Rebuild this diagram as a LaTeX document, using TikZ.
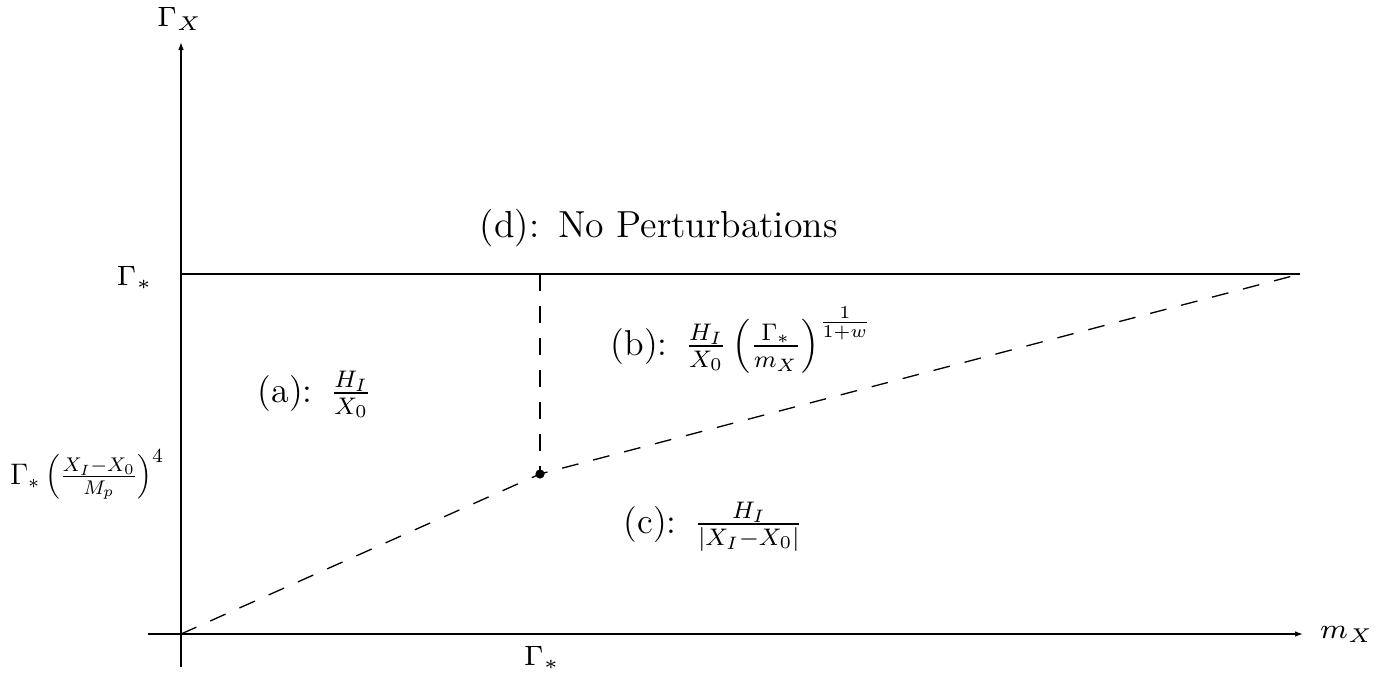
\documentclass[tikz,border=0pt]{standalone}
\usetikzlibrary{arrows.meta}
\newcommand\shrinkit[1]{\scalebox{0.75}{#1}}
\begin{document}
\begin{tikzpicture}[x=0.25pt,y=-0.25pt,
 axis/.style={line width=0.33pt,-{Latex[length=2pt,width=1.4pt]}},
 solidline/.style={line width=0.33pt},
 dashline/.style={line width=0.33pt,dash pattern=on 4.2pt off 3.8pt},
 biglabel/.style={inner sep=0pt,font=\fontsize{12}{14}\selectfont},
 smalllabel/.style={inner sep=0pt,font=\fontsize{7}{8.5}\selectfont},
 sidelabel/.style={inner sep=0pt,font=\fontsize{12}{14}\selectfont}]
\useasboundingbox (0,0) rectangle (1392,677);
\coordinate (O) at (181,634);
\coordinate (xs) at (148,634);
\coordinate (xe) at (1303,634);
\coordinate (ys) at (181,667);
\coordinate (ye) at (181,42);
\coordinate (GL) at (181,274);
\coordinate (GR) at (1300,274);
\coordinate (GT) at (540,274);
\node[circle,fill,inner sep=0pt,minimum size=2.3pt] (dot) at (540,474) {};
\draw[axis] (xs) -- (xe);
\draw[axis] (ys) -- (ye);
\draw[solidline] (GL) -- (GR);
\draw[dashline] (O) -- (dot.center) -- (GR);
\draw[dashline] (GT) -- (dot.center);
\node[smalllabel,anchor=base] (gx) at (180,26) {$\Gamma_X$};
\node[smalllabel,anchor=base east] (gs) at (154,285) {$\Gamma_*$};
\node[sidelabel,anchor=base east] (gp) at (165,484) {\resizebox{38.5pt}{!}{$\Gamma_*\left(\frac{X_I-X_0}{M_p}\right)^4$}};
\node[smalllabel,anchor=base] (gb) at (542,665) {$\Gamma_*$};
\node[smalllabel,anchor=base west] (mx) at (1319,638) {$m_X$};
\node[biglabel,anchor=west] (d) at (479,228) {\scalebox{0.785}{(d):\hspace{6pt}No Perturbations}};
\node[biglabel,anchor=base west] (a) at (257,402) {\shrinkit{(a):\hspace{6pt}$\frac{H_I}{X_0}$}};
\node[biglabel,anchor=base west] (b) at (610,355) {\shrinkit{(b):\hspace{6pt}$\frac{H_I}{X_0}\left(\frac{\Gamma_*}{m_X}\right)^{\frac{1}{1+w}}$}};
\node[biglabel,anchor=base west] (c) at (623,533) {\shrinkit{(c):\hspace{6pt}$\frac{H_I}{|X_I-X_0|}$}};
\end{tikzpicture}
\end{document}
